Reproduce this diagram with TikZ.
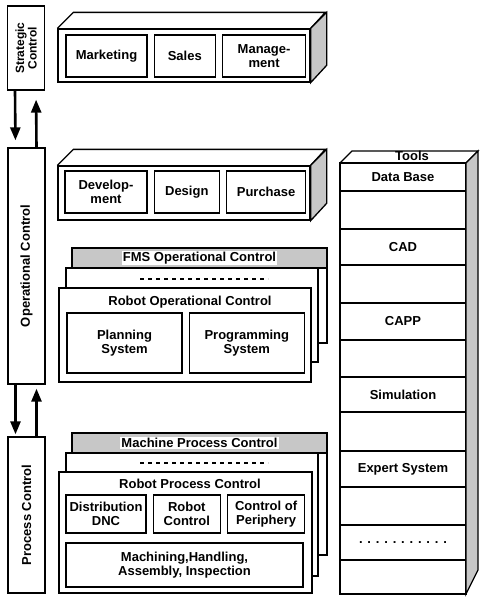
\documentclass[tikz,border=0pt]{standalone}
\usepackage{fontspec}
\setmainfont{Liberation Sans}
\usetikzlibrary{arrows.meta,positioning}
\colorlet{stipple}{black!22}

\begin{document}
\begin{tikzpicture}[x=1pt, y=-1pt, line width=1.3pt,
    every node/.style={font=\fontsize{13}{14}\selectfont\bfseries, align=center},
    levelbox/.style={draw, minimum width=37pt},
    blockface/.style={draw, fill=white, minimum width=252pt},
    inbox/.style={draw, minimum height=42pt, inner sep=1pt},
    stackcard/.style={draw, fill=white},
    strip/.style={draw, fill=stipple, minimum height=20pt, minimum width=255pt},
    toolrow/.style={draw, minimum width=126pt, inner sep=0pt, outer sep=0pt},
    flow/.style={line width=2.6pt, -{Triangle[length=13pt,width=10pt]}},
    dashrow/.style={line width=1.4pt, dash pattern=on 4pt off 4pt}]
        \useasboundingbox (0,0) rectangle (480,597);

        % control levels on the left
        \node[levelbox, minimum height=84pt] (strat) at (26,48) {};
        \node[rotate=90, font=\fontsize{12}{12.5}\selectfont\bfseries] (stratlbl) at (strat) {Strategic\\Control};
        \node[levelbox, minimum height=236pt] (oper) at (26.5,266) {};
        \node[rotate=90] (operlbl) at (oper) {Operational Control};
        \node[levelbox, minimum height=156pt] (proc) at (26.5,515) {};
        \node[rotate=90] (proclbl) at (proc) {Process Control};
        \draw[flow, shorten >=7pt] ([xshift=-11pt]strat.south) -- ([xshift=-11pt]oper.north);
        \draw[flow, shorten >=9pt] ([xshift=10pt]oper.north) -- ([xshift=10pt]strat.south);
        \draw[flow, shorten >=2pt] ([xshift=-11pt]oper.south) -- ([xshift=-11pt]proc.north);
        \draw[flow, shorten >=4pt] ([xshift=10pt]proc.north) -- ([xshift=10pt]oper.south);

        % strategic block
        \node[blockface, minimum height=53pt] (stratblk) at (184,55.5) {};
        \draw (stratblk.north west) -- ++(16,-16) -- ++(252,0) -- (stratblk.north east);
        \draw[fill=stipple] (stratblk.north east) -- ++(16,-16) -- ++(0,53) -- (stratblk.south east) -- cycle;
        \node[inbox, minimum width=81pt] (mkt) at (106.5,56) {Marketing};
        \node[inbox, minimum width=61pt, right=6pt of mkt] (sales) {Sales};
        \node[inbox, minimum width=83pt, right=6pt of sales] (mgmt) {Manage-\\ment};

        % operational block
        \node[blockface, minimum height=54pt] (operblk) at (184,193) {};
        \draw (operblk.north west) -- ++(16,-16) -- ++(252,0) -- (operblk.north east);
        \draw[fill=stipple] (operblk.north east) -- ++(16,-16) -- ++(0,54) -- (operblk.south east) -- cycle;
        \node[inbox, minimum width=82pt] (dev) at (106,192) {Develop-\\ment};
        \node[inbox, minimum width=65pt, right=6pt of dev] (design) {Design};
        \node[inbox, minimum width=79pt, right=6pt of design] (purch) {Purchase};

        % FMS stack
        \node[stackcard, minimum width=255pt, minimum height=95pt] (fmsback) at (199.5,295.5) {};
        \node[strip, anchor=north] (fmsstrip) at (fmsback.north) {};
        \node[fill=white, inner sep=1pt] (fmstitle) at (fmsstrip) {FMS Operational Control};
        \node[stackcard, minimum width=252pt, minimum height=94pt] (fmsmid) at (192,315) {};
        \draw[dashrow] (140,279) -- (268,279);
        \node[stackcard, minimum width=252pt, minimum height=94pt] (fmsfront) at (185,335) {};
        \node (robopctl) at (190,302) {Robot Operational Control};
        \node[inbox, minimum width=115pt, minimum height=60pt] (plan) at (124.5,343) {Planning\\System};
        \node[inbox, minimum width=115pt, minimum height=60pt, right=6pt of plan] (prog) {Programming\\System};

        % machine stack
        \node[stackcard, minimum width=255pt, minimum height=122pt] (mpcback) at (199.5,494) {};
        \node[strip, anchor=north] (mpcstrip) at (mpcback.north) {};
        \node[fill=white, inner sep=1pt] (mpctitle) at (mpcstrip) {Machine Process Control};
        \node[stackcard, minimum width=252pt, minimum height=123pt] (mpcmid) at (192,514.5) {};
        \draw[dashrow] (140,463) -- (268,463);
        \node[stackcard, minimum width=253pt, minimum height=121pt] (mpcfront) at (185.5,532.5) {};
        \node (robprctl) at (190,484) {Robot Process Control};
        \node[inbox, minimum width=80pt, minimum height=38pt] (dnc) at (106,514) {Distribution\\DNC};
        \node[inbox, minimum width=67pt, minimum height=38pt, right=6pt of dnc] (robctl) {Robot\\Control};
        \node[inbox, minimum width=77pt, minimum height=38pt, right=6pt of robctl] (periph) {Control of\\Periphery};
        \node[inbox, minimum width=237pt, minimum height=44pt] (mach) at (184.5,565) {Machining,Handling,\\Assembly, Inspection};

        % tools column
        \node[toolrow, minimum height=28pt, anchor=north] (t1) at (403,163) {Data Base};
        \node[toolrow, minimum height=38pt, below=0pt of t1] (t2) {};
        \node[toolrow, minimum height=36pt, below=0pt of t2] (t3) {CAD};
        \node[toolrow, minimum height=38pt, below=0pt of t3] (t4) {};
        \node[toolrow, minimum height=37pt, below=0pt of t4] (t5) {CAPP};
        \node[toolrow, minimum height=37pt, below=0pt of t5] (t6) {};
        \node[toolrow, minimum height=35pt, below=0pt of t6] (t7) {Simulation};
        \node[toolrow, minimum height=39pt, below=0pt of t7] (t8) {};
        \node[toolrow, minimum height=36pt, below=0pt of t8] (t9) {Expert System};
        \node[toolrow, minimum height=38pt, below=0pt of t9] (t10) {};
        \node[toolrow, minimum height=35pt, below=0pt of t10] (t11) {. . . . . . . . . . .};
        \node[toolrow, minimum height=34pt, below=0pt of t11] (t12) {};
        \draw (t1.north west) -- ++(12,-12) -- ++(126,0) -- (t1.north east);
        \draw[fill=stipple] (t1.north east) -- ++(12,-12) -- ++(0,419) -- (t12.south east) -- cycle;
        \node (tools) at (412,156) {Tools};
    \end{tikzpicture}
\end{document}
